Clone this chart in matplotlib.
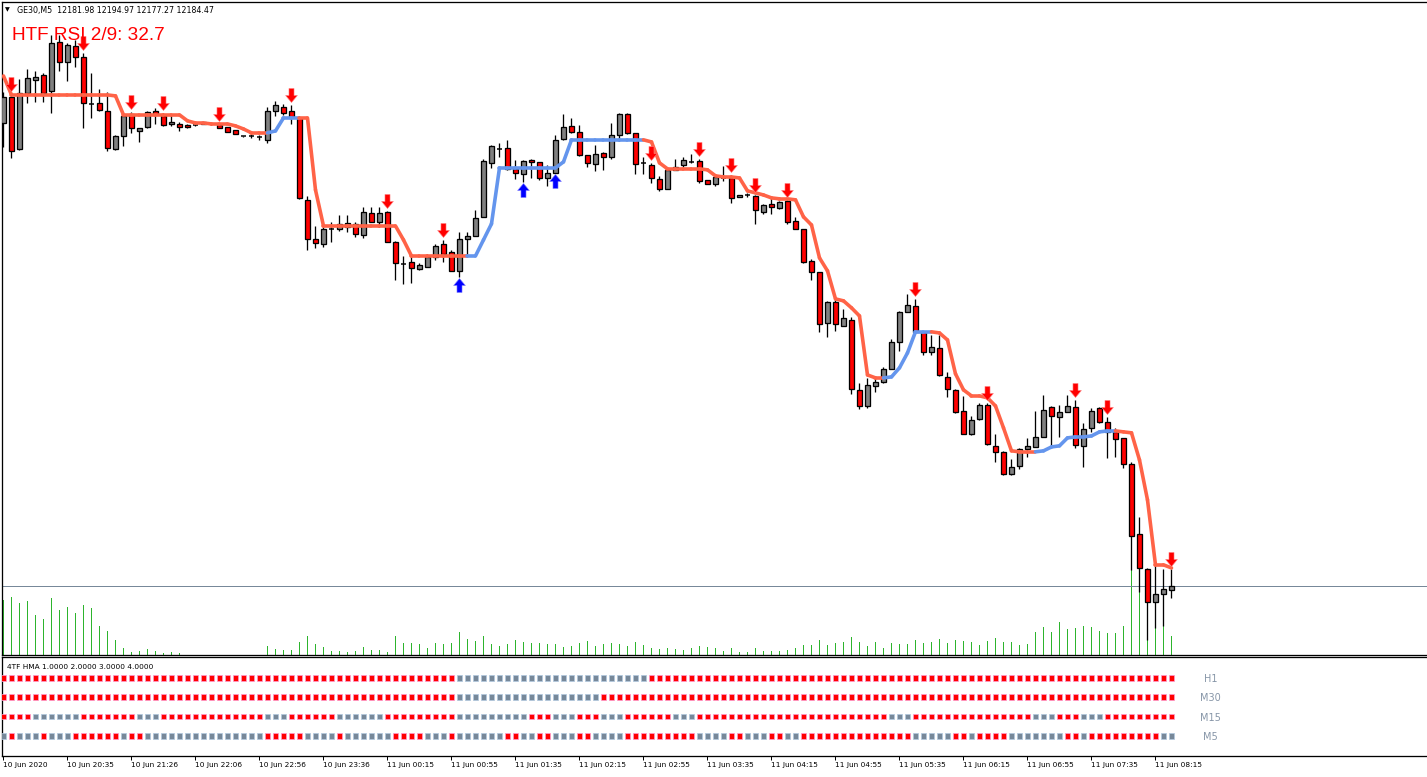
import matplotlib
matplotlib.use('Agg')
import matplotlib.pyplot as plt
from matplotlib.path import Path
from matplotlib.collections import LineCollection
import numpy as np

plt.rcParams['font.family'] = ['DejaVu Sans']

W, H = 1427, 777

# ---- GE30 M5 candles ----
opens = [12470.0, 12486.1, 12454.0, 12488.5, 12496.6, 12499.6, 12489.8, 12520.0, 12507.7, 12517.5,
         12510.8, 12481.8, 12482.4, 12477.4, 12454.0, 12462.0, 12475.6, 12465.1, 12467.6, 12477.4,
         12474.4, 12469.4, 12469.4, 12468.8, 12468.8, 12470.7, 12469.4, 12468.8, 12467.6, 12465.7,
         12462.0, 12462.0, 12461.4, 12459.6, 12477.4, 12479.9, 12477.4, 12473.1, 12422.6, 12398.5,
         12395.4, 12404.7, 12404.7, 12405.9, 12407.8, 12401.0, 12414.5, 12409.0, 12415.2, 12396.7,
         12383.1, 12384.3, 12380.0, 12381.2, 12387.4, 12395.4, 12390.5, 12378.8, 12398.5, 12400.4,
         12412.1, 12445.4, 12454.0, 12454.6, 12441.7, 12438.6, 12447.2, 12446.0, 12436.1, 12439.2,
         12460.2, 12468.2, 12464.5, 12450.3, 12444.8, 12451.5, 12449.1, 12462.6, 12475.6, 12463.9,
         12445.4, 12444.1, 12435.5, 12429.3, 12441.1, 12444.1, 12446.0, 12446.6, 12434.9, 12432.4,
         12436.1, 12436.1, 12424.4, 12425.6, 12425.0, 12415.2, 12420.1, 12417.6, 12421.9, 12409.6,
         12404.7, 12384.9, 12378.2, 12346.7, 12359.7, 12344.9, 12348.6, 12305.4, 12295.5, 12307.9,
         12310.3, 12318.3, 12335.0, 12353.5, 12357.2, 12341.2, 12328.8, 12331.3, 12313.4, 12305.4,
         12292.4, 12278.3, 12287.5, 12296.1, 12270.9, 12267.2, 12253.6, 12258.5, 12269.0, 12270.2,
         12276.4, 12294.9, 12288.7, 12291.8, 12294.9, 12270.9, 12282.0, 12294.3, 12285.7, 12279.5,
         12275.8, 12259.8, 12216.6, 12195.0, 12174.6, 12179.6, 12181.98]
highs = [12489.2, 12487.9, 12497.2, 12503.3, 12502.1, 12500.9, 12524.3, 12524.3, 12519.4, 12521.2,
         12513.2, 12500.9, 12491.0, 12489.2, 12462.6, 12475.0, 12476.8, 12467.0, 12477.4, 12479.3,
         12476.2, 12475.6, 12470.7, 12469.4, 12469.4, 12470.7, 12469.4, 12469.4, 12467.6, 12465.7,
         12462.0, 12463.3, 12462.6, 12479.9, 12483.6, 12481.8, 12481.1, 12474.4, 12425.0, 12406.5,
         12405.9, 12409.0, 12413.3, 12413.3, 12409.0, 12418.2, 12418.2, 12418.2, 12415.8, 12397.3,
         12388.0, 12388.0, 12383.7, 12389.3, 12395.4, 12397.9, 12391.7, 12402.8, 12402.8, 12416.4,
         12447.8, 12456.5, 12457.7, 12459.6, 12447.2, 12447.2, 12447.8, 12446.0, 12444.1, 12462.6,
         12475.6, 12473.1, 12468.8, 12450.3, 12456.5, 12452.2, 12470.0, 12476.2, 12476.2, 12463.9,
         12449.1, 12445.4, 12437.4, 12441.7, 12447.8, 12449.1, 12450.9, 12447.8, 12434.9, 12436.7,
         12443.5, 12438.0, 12425.6, 12426.9, 12425.6, 12420.1, 12423.8, 12421.9, 12422.6, 12412.1,
         12404.7, 12386.2, 12378.2, 12360.3, 12360.9, 12355.3, 12350.4, 12309.7, 12312.8, 12314.0,
         12319.6, 12336.8, 12354.1, 12364.6, 12361.5, 12341.8, 12339.3, 12339.3, 12316.5, 12306.0,
         12301.7, 12289.4, 12297.4, 12297.4, 12278.3, 12267.8, 12262.8, 12269.6, 12275.8, 12292.4,
         12302.3, 12295.5, 12296.1, 12302.3, 12299.2, 12285.0, 12294.3, 12294.9, 12288.7, 12282.0,
         12275.8, 12261.0, 12227.1, 12195.6, 12197.5, 12195.0, 12194.97]
lows = [12455.2, 12448.5, 12453.4, 12482.4, 12483.0, 12483.0, 12476.2, 12502.1, 12496.0, 12504.6,
        12467.0, 12473.1, 12477.4, 12452.8, 12453.4, 12455.9, 12463.9, 12458.3, 12467.0, 12469.4,
        12468.2, 12468.2, 12465.1, 12467.0, 12468.2, 12469.4, 12468.8, 12467.0, 12464.5, 12463.3,
        12461.4, 12460.8, 12459.6, 12457.7, 12474.4, 12475.0, 12469.4, 12423.2, 12391.7, 12393.0,
        12393.6, 12396.7, 12403.4, 12402.8, 12399.7, 12399.1, 12409.0, 12405.9, 12396.7, 12373.2,
        12370.8, 12371.4, 12379.4, 12381.2, 12385.6, 12384.3, 12378.8, 12375.1, 12387.4, 12400.4,
        12412.1, 12442.3, 12449.1, 12441.1, 12435.5, 12433.7, 12436.1, 12434.9, 12431.2, 12439.2,
        12459.6, 12463.9, 12449.7, 12442.9, 12440.4, 12441.1, 12447.8, 12459.0, 12463.3, 12438.6,
        12438.6, 12433.0, 12428.1, 12429.3, 12441.1, 12442.9, 12445.4, 12433.0, 12432.4, 12431.2,
        12434.3, 12420.7, 12424.4, 12424.4, 12407.8, 12413.9, 12413.9, 12417.0, 12407.8, 12404.7,
        12383.7, 12373.2, 12341.2, 12338.1, 12341.8, 12344.9, 12302.9, 12293.7, 12294.3, 12304.2,
        12309.7, 12318.3, 12329.4, 12353.5, 12340.5, 12327.0, 12327.0, 12314.0, 12301.1, 12291.2,
        12278.3, 12277.6, 12286.9, 12271.5, 12261.0, 12253.0, 12253.0, 12256.7, 12264.1, 12270.2,
        12276.4, 12270.2, 12276.4, 12291.8, 12269.6, 12257.9, 12279.5, 12285.0, 12263.5, 12264.1,
        12257.3, 12194.4, 12180.8, 12151.2, 12158.6, 12159.9, 12177.27]
closes = [12486.1, 12452.8, 12488.5, 12497.8, 12498.4, 12488.5, 12519.4, 12507.7, 12518.2, 12510.8,
          12482.4, 12481.8, 12478.1, 12454.6, 12462.0, 12474.4, 12467.0, 12467.0, 12476.8, 12475.6,
          12468.8, 12470.7, 12467.6, 12467.6, 12468.8, 12469.4, 12469.4, 12467.0, 12464.5, 12463.3,
          12462.0, 12462.0, 12461.4, 12477.4, 12481.1, 12476.2, 12473.7, 12423.8, 12398.5, 12396.0,
          12404.7, 12404.7, 12407.8, 12408.4, 12401.6, 12415.2, 12409.0, 12414.5, 12396.7, 12383.7,
          12383.1, 12380.6, 12382.5, 12387.4, 12394.2, 12389.3, 12378.8, 12398.5, 12400.4, 12411.5,
          12446.6, 12455.9, 12454.0, 12441.7, 12439.2, 12446.6, 12446.0, 12436.1, 12439.2, 12459.6,
          12467.6, 12464.5, 12450.3, 12445.4, 12450.9, 12449.1, 12462.6, 12475.6, 12463.9, 12444.8,
          12445.4, 12436.1, 12429.3, 12441.1, 12442.9, 12447.2, 12446.0, 12434.3, 12432.4, 12436.7,
          12436.1, 12423.8, 12425.6, 12425.6, 12416.4, 12419.5, 12418.2, 12421.3, 12409.0, 12404.7,
          12384.3, 12378.2, 12346.1, 12359.7, 12346.1, 12349.8, 12306.0, 12295.5, 12308.5, 12310.3,
          12318.3, 12335.0, 12353.5, 12357.8, 12341.2, 12328.8, 12331.9, 12314.6, 12306.0, 12291.8,
          12278.3, 12286.9, 12296.1, 12272.1, 12267.2, 12253.6, 12257.9, 12269.0, 12270.9, 12276.4,
          12293.1, 12289.4, 12291.8, 12295.5, 12271.5, 12281.3, 12292.4, 12285.7, 12279.5, 12275.2,
          12259.8, 12215.4, 12195.6, 12174.6, 12179.6, 12182.7, 12184.47]
tick_volume = [550, 580, 520, 540, 400, 360, 570, 450, 480, 420,
               500, 470, 290, 240, 150, 70, 30, 40, 60, 40,
               20, 30, 20, 0, 0, 0, 0, 0, 0, 0,
               0, 0, 0, 90, 60, 50, 50, 130, 190, 110,
               80, 40, 40, 30, 40, 80, 50, 50, 30, 190,
               120, 120, 110, 70, 120, 110, 120, 230, 160, 140,
               190, 110, 90, 110, 150, 130, 120, 120, 110, 110,
               80, 90, 120, 140, 90, 110, 120, 110, 90, 130,
               100, 70, 60, 70, 60, 50, 70, 90, 80, 70,
               40, 70, 30, 30, 70, 40, 40, 40, 50, 70,
               100, 100, 150, 100, 120, 130, 180, 130, 90, 130,
               70, 120, 110, 110, 150, 120, 130, 160, 120, 150,
               140, 130, 100, 140, 170, 130, 130, 100, 110, 230,
               280, 230, 330, 260, 270, 290, 280, 240, 220, 220,
               290, 950, 950, 800, 550, 500, 190]

# ---- HMA line (value, rising flag) ----
hma = [12499.0, 12487.3, 12487.3, 12487.3, 12487.3, 12487.3, 12487.3, 12487.3, 12487.3, 12487.3,
       12487.3, 12487.3, 12487.3, 12487.3, 12486.7, 12475.0, 12475.0, 12475.0, 12475.0, 12475.0,
       12475.0, 12475.0, 12475.0, 12471.3, 12470.0, 12470.0, 12469.4, 12469.4, 12469.4, 12468.2,
       12466.3, 12463.9, 12463.9, 12463.9, 12465.1, 12473.1, 12473.1, 12473.1, 12473.1, 12428.7,
       12406.5, 12406.5, 12406.5, 12406.5, 12406.5, 12406.5, 12406.5, 12406.5, 12406.5, 12406.5,
       12397.9, 12388.0, 12388.0, 12388.0, 12388.0, 12388.0, 12388.0, 12388.0, 12388.0, 12388.0,
       12397.9, 12407.8, 12442.3, 12442.3, 12442.3, 12442.3, 12442.3, 12442.3, 12442.3, 12442.3,
       12446.0, 12459.6, 12459.6, 12459.6, 12459.6, 12459.6, 12459.6, 12459.6, 12459.6, 12459.6,
       12459.6, 12458.3, 12445.4, 12441.7, 12441.7, 12441.7, 12441.7, 12441.7, 12441.1, 12437.4,
       12436.7, 12436.7, 12436.1, 12428.1, 12426.9, 12425.6, 12423.8, 12423.2, 12423.2, 12422.6,
       12412.1, 12407.1, 12386.8, 12378.8, 12361.5, 12360.3, 12356.0, 12351.0, 12314.6, 12312.8,
       12312.8, 12313.4, 12319.0, 12328.2, 12341.2, 12341.2, 12341.2, 12340.5, 12336.2, 12315.3,
       12305.4, 12301.7, 12301.7, 12300.5, 12295.5, 12282.0, 12267.8, 12267.2, 12267.2, 12267.2,
       12267.8, 12270.2, 12270.9, 12275.8, 12276.4, 12276.4, 12277.0, 12279.5, 12280.1, 12280.1,
       12279.5, 12278.9, 12262.2, 12237.6, 12197.5, 12197.5, 12195.6]
hma_rising = ([0] * 34 + [1] * 4 + [0] * 21 + [1] * 22 + [0] * 30 + [1] * 6
              + [0] * 13 + [1] * 10 + [0] * 7)

sell_signals = [1, 10, 16, 20, 27, 36, 48, 55, 81, 87, 91, 94, 98, 114, 123, 134, 138, 146]
buy_signals = [57, 65, 69]

# ---- 4TF HMA panel: runs of (colour, bars), R = falling, G = rising ----
tf_names = ['H1', 'M30', 'M15', 'M5']
tf_levels = [4, 3, 2, 1]
tf_runs = {
    'H1': [('R', 57), ('G', 24), ('R', 66)],
    'M30': [('R', 57), ('G', 18), ('R', 72)],
    'M15': [('R', 4), ('G', 6), ('R', 7), ('G', 3), ('R', 13), ('G', 3), ('R', 6), ('G', 6),
            ('R', 9), ('G', 9), ('R', 3), ('G', 3), ('R', 3), ('G', 3), ('R', 6), ('G', 3),
            ('R', 24), ('G', 3), ('R', 15), ('G', 3), ('R', 3), ('G', 3), ('R', 9)],
    'M5': [('G', 1), ('R', 1), ('G', 3), ('R', 1), ('G', 3), ('R', 6), ('G', 1), ('R', 2),
           ('G', 15), ('R', 5), ('G', 4), ('R', 1), ('G', 6), ('R', 4), ('G', 3), ('R', 1),
           ('G', 6), ('R', 2), ('G', 2), ('R', 2), ('G', 3), ('R', 2), ('G', 4), ('R', 9),
           ('G', 4), ('R', 2), ('G', 3), ('R', 2), ('G', 2), ('R', 14), ('G', 5), ('R', 2),
           ('G', 1), ('R', 4), ('G', 7), ('R', 2), ('G', 1), ('R', 9), ('G', 2)],
}

tick_bars = list(range(0, 145, 8))
tick_labels = ['10 Jun 2020', '10 Jun 20:35', '10 Jun 21:26', '10 Jun 22:06', '10 Jun 22:56',
               '10 Jun 23:36', '11 Jun 00:15', '11 Jun 00:55', '11 Jun 01:35', '11 Jun 02:15',
               '11 Jun 02:55', '11 Jun 03:35', '11 Jun 04:15', '11 Jun 04:55', '11 Jun 05:35',
               '11 Jun 06:15', '11 Jun 06:55', '11 Jun 07:35', '11 Jun 08:15']

BULL = '#808080'
BEAR = '#ff0000'
HMA_DOWN = '#ff6347'
HMA_UP = '#6495ed'
SQ_GRAY = '#778899'
PX = 0.72  # one pixel in points

n = len(opens)
bars = np.arange(n)
xlim = (-0.1875, 177.94)
ylim = (12141.9, 12544.6)
per_px = (ylim[1] - ylim[0]) / 653.0

fig = plt.figure(figsize=(W / 100, H / 100), dpi=100)
rect_main = [2 / W, 1 - 655 / H, (W - 2) / W, 653 / H]

# volumes in their own axes, sitting behind the price axes
axv = fig.add_axes(rect_main)
axv.set_xlim(*xlim)
axv.set_ylim(0, 6530)
axv.vlines(bars, 0, tick_volume, color='#2db42d', lw=PX, antialiased=False)
axv.axis('off')

ax = fig.add_axes(rect_main)
ax.patch.set_visible(False)
ax.set_xlim(*xlim)
ax.set_ylim(*ylim)
ax.set_xticks([])
ax.set_yticks([])
ax.spines['right'].set_visible(False)
for s in ('left', 'top', 'bottom'):
    ax.spines[s].set_linewidth(PX * 1.3)

ax.axhline(closes[-1], color='#778899', lw=PX, zorder=1)

# candles
o = np.array(opens)
c = np.array(closes)
ax.vlines(bars, lows, highs, color='black', lw=PX * 1.3, zorder=2)
body_w = 0.58
for i in range(n):
    if c[i] == o[i]:
        ax.hlines(c[i], i - 0.35, i + 0.35, color='black', lw=PX * 1.5, zorder=3)
        continue
    col = BULL if c[i] > o[i] else BEAR
    ax.bar(i, abs(c[i] - o[i]), bottom=min(o[i], c[i]), width=body_w, color=col,
           edgecolor='black', linewidth=PX * 1.3, zorder=3)

# HMA coloured line
segs, cols = [], []
for i in range(1, n):
    segs.append([(i - 1, hma[i - 1]), (i, hma[i])])
    cols.append(HMA_UP if hma_rising[i] else HMA_DOWN)
ax.add_collection(LineCollection(segs, colors=cols, linewidths=PX * 3.6, capstyle='round', zorder=4))

# signal arrows
down_arrow = Path([(-0.18, 0.5), (0.18, 0.5), (0.18, 0.0), (0.42, 0.0), (0.0, -0.5),
                   (-0.42, 0.0), (-0.18, 0.0), (-0.18, 0.5)],
                  [Path.MOVETO] + [Path.LINETO] * 6 + [Path.CLOSEPOLY])
up_arrow = Path([(x, -y) for x, y in down_arrow.vertices], down_arrow.codes)
sx = np.array(sell_signals)
bx = np.array(buy_signals)
ax.plot(sx, np.array(highs)[sx] + 9.5 * per_px, ls='none', marker=down_arrow, ms=PX * 14,
        mfc='#ff0000', mec='#ff8080', mew=0.4, zorder=5)
ax.plot(bx, np.array(lows)[bx] - 8.5 * per_px, ls='none', marker=up_arrow, ms=PX * 14,
        mfc='#0000ff', mec='#8080ff', mew=0.4, zorder=5)

# ---- indicator panel ----
ax2 = fig.add_axes([2 / W, 1 - 756 / H, (W - 2) / W, 99 / H])
ax2.set_xlim(*xlim)
ax2.set_ylim(-0.03, 5.065)
ax2.set_yticks([])
ax2.spines['right'].set_visible(False)
for s in ('left', 'top', 'bottom'):
    ax2.spines[s].set_linewidth(PX * 1.3)
for name, lvl in zip(tf_names, tf_levels):
    flags = []
    for colr, cnt in tf_runs[name]:
        flags += [colr] * cnt
    fc = [BEAR if f == 'R' else SQ_GRAY for f in flags]
    ec = ['#ff9ad0' if f == 'R' else '#b0c8e0' for f in flags]
    ax2.scatter(bars[:len(flags)], [lvl] * len(flags), marker='s', s=17, c=fc,
                edgecolors=ec, linewidths=0.5, zorder=3)
    ax2.text(150.9, lvl - 0.05, name, color='#8796a8', fontsize=7, ha='center', va='center')

ax2.set_xticks(tick_bars)
ax2.set_xticklabels(tick_labels)
ax2.tick_params(axis='x', direction='out', length=3, width=PX, labelsize=5.3, pad=1.5)
for lab in ax2.get_xticklabels():
    lab.set_ha('left')

# ---- texts ----
fig.text(7 / W, 1 - 667 / H, '4TF HMA 1.0000 2.0000 3.0000 4.0000', fontsize=5.3,
         va='center', ha='left')
fig.text(5 / W, 1 - 10 / H, '\u25bc', fontsize=4.5, va='center', ha='left')
fig.text(17 / W, 1 - 10 / H, 'GE30,M5  12181.98 12194.97 12177.27 12184.47', fontsize=5.7,
         va='center', ha='left')
fig.text(12 / W, 1 - 35 / H, 'HTF RSI 2/9: 32.7', color='#ff0000', fontsize=13.7,
         family=['Liberation Sans', 'DejaVu Sans'], va='center', ha='left', zorder=10)

fig.savefig('out.png', dpi=100, facecolor='white')
